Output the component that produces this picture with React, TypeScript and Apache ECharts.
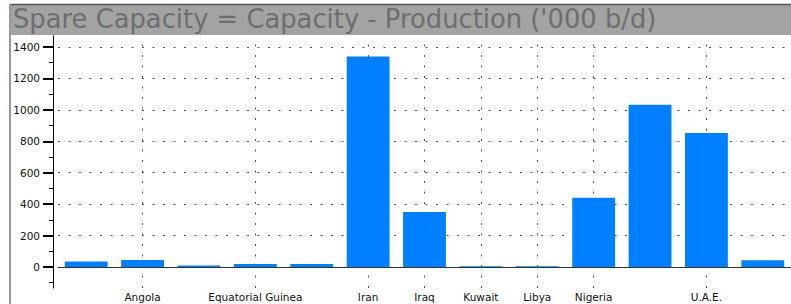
import React, { useEffect, useRef } from "react";
import * as echarts from "echarts";

const titleText = "Spare Capacity = Capacity - Production ('000 b/d)";
const categories = [
  "Algeria", "Angola", "Congo", "Equatorial Guinea", "Gabon", "Iran", "Iraq",
  "Kuwait", "Libya", "Nigeria", "Saudi Arabia", "U.A.E.", "Venezuela",
];
const spareCapacity = [35, 45, 10, 18, 18, 1340, 350, 5, 5, 440, 1032, 852, 42];
const labeledCategories = ["Angola", "Equatorial Guinea", "Iran", "Iraq", "Kuwait", "Libya", "Nigeria", "U.A.E."];
const yLabelValues = [0, 200, 400, 600, 800, 1000, 1200, 1400];
const yMinorTickValues = [-100, 100, 300, 500, 700, 900, 1100, 1300];
const yMin = -134;
const yMax = 1470;

const isLabeled = (i: number) => labeledCategories.includes(categories[i]);

export default function App() {
  const ref = useRef<HTMLDivElement>(null);
  useEffect(() => {
    if (!ref.current) return;
    const chart = echarts.init(ref.current, null, { renderer: "svg" });
    const dotted = { color: "#555", width: 1, type: [2, 8.5] as any };
    chart.setOption({
      animation: false,
      backgroundColor: "#fff",
      title: {
        text: titleText,
        left: 13,
        top: 6,
        padding: 0,
        textStyle: { fontFamily: "DejaVu Sans", fontSize: 25.8, fontWeight: "normal", color: "#6e6e6e" },
      },
      graphic: [
        { type: "rect", z: -10, shape: { x: 10, y: 4, width: 800, height: 31 }, style: { fill: "#a3a3a3" } },
        { type: "line", z: -9, shape: { x1: 10, y1: 4.5, x2: 800, y2: 4.5 }, style: { stroke: "#555", lineWidth: 1.5 } },
        { type: "line", z: -9, shape: { x1: 10, y1: 4, x2: 10, y2: 304 }, style: { stroke: "#999", lineWidth: 2 } },
      ],
      grid: { left: 58, right: -4, top: 36, bottom: 16, containLabel: false },
      xAxis: {
        type: "category",
        data: categories,
        boundaryGap: true,
        axisLine: { lineStyle: { color: "#333" } },
        axisTick: { alignWithLabel: true, interval: (i: number) => isLabeled(i), length: 4, lineStyle: { color: "#333" } },
        axisLabel: {
          interval: 0,
          formatter: (v: string) => (labeledCategories.includes(v) ? v : ""),
          fontFamily: "DejaVu Sans",
          fontSize: 10.5,
          color: "#111",
          margin: 3,
        },
        splitLine: { show: false },
      },
      yAxis: [
        {
          type: "value",
          min: yMin,
          max: yMax,
          offset: 5,
          axisLine: { show: true, lineStyle: { color: "#000" } },
          axisTick: { show: true, customValues: yLabelValues, length: 10, lineStyle: { color: "#000", width: 2 } },
          axisLabel: {
            customValues: yLabelValues,
            formatter: (v: number) => String(v),
            fontFamily: "DejaVu Sans",
            fontSize: 10.5,
            color: "#111",
            margin: 13,
          },
          splitLine: { show: true, lineStyle: dotted },
        },
        {
          type: "value",
          min: yMin,
          max: yMax,
          offset: 5,
          position: "left",
          axisLine: { show: false },
          axisTick: { show: true, customValues: yMinorTickValues, length: 4, lineStyle: { color: "#000" } },
          axisLabel: { show: false },
          splitLine: { show: false },
        },
      ],
      series: [
        {
          type: "bar",
          data: spareCapacity,
          barCategoryGap: "24%",
          itemStyle: { color: "#0080ff" },
          z: 2,
          markLine: {
            z: 1,
            silent: true,
            symbol: "none",
            label: { show: false },
            lineStyle: dotted,
            data: labeledCategories.map((c) => ({ xAxis: c })),
          },
        },
      ],
    });
    return () => chart.dispose();
  }, []);
  return <div ref={ref} style={{ position: "fixed", left: 0, top: 0, width: 791, height: 304 }} />;
}
